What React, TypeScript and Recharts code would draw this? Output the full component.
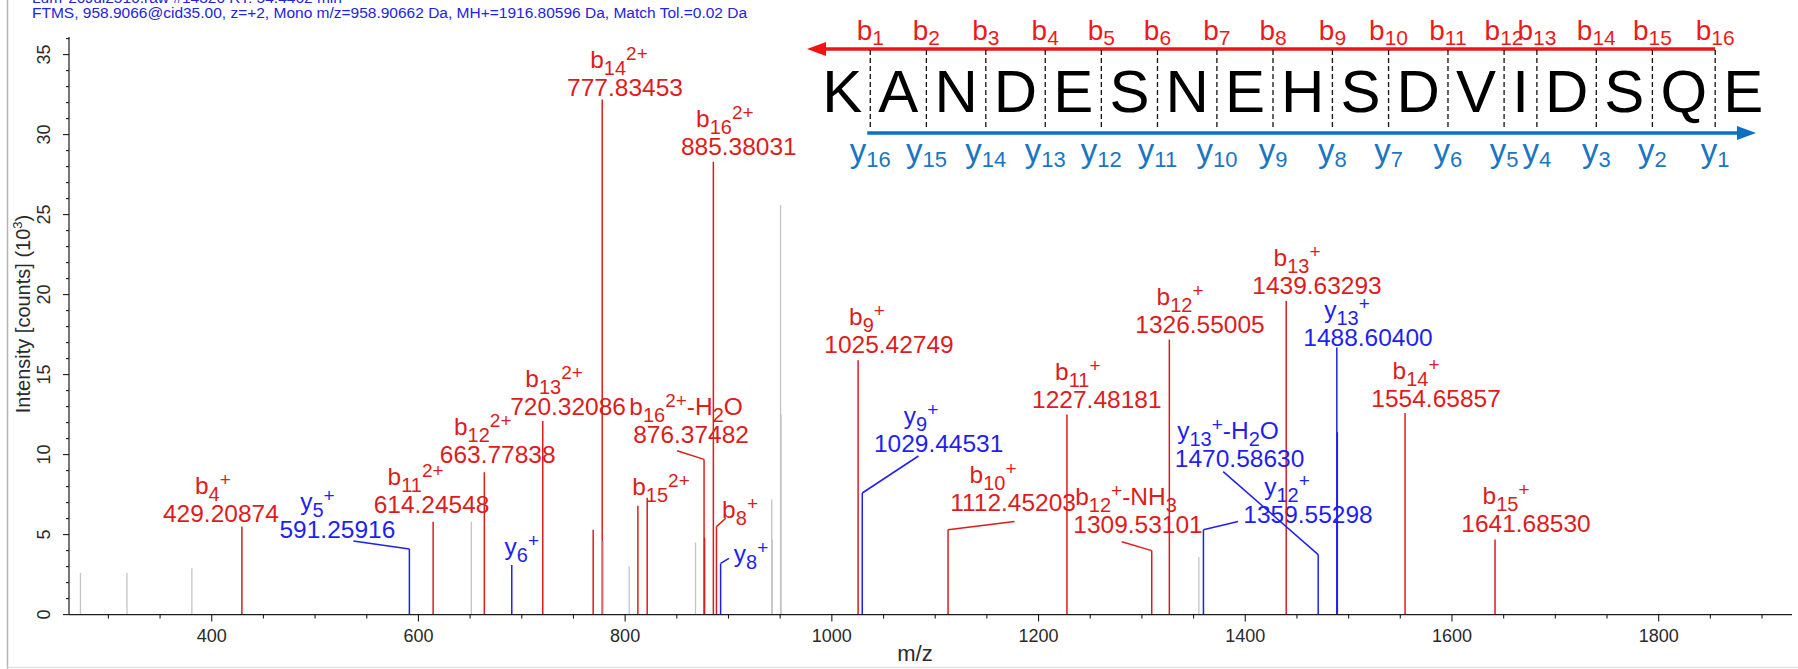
import React from "react";
import { ComposedChart, Bar, XAxis, YAxis } from "recharts";

const FONT = "'Liberation Sans', Arial, Helvetica, sans-serif";
const RED = "#dd1c1c";
const BLUE = "#1f1ff2";
const GREY = "#c4c4c4";
const AXIS = "#1c1c1c";

// annotated fragment ions, ordered by m/z (intensity in 10^3 counts)
// name format: series|number|charge|neutral loss
const ionMz = [
  429.20874, 591.25916, 614.24548, 663.77838, 690.33, 720.32086, 777.83453, 821.35,
  876.37482, 885.38031, 888.37, 892.39, 1025.42749, 1029.44531, 1112.45203, 1227.48181,
  1309.53101, 1326.55005, 1359.55298, 1439.63293, 1470.5863, 1488.604, 1554.65857, 1641.6853,
];
const ionIntensity = [
  5.5, 4.1, 5.8, 8.9, 3.1, 12.1, 32.2, 7.3,
  9.7, 28.3, 5.5, 3.2, 15.9, 7.6, 5.3, 12.5,
  4.0, 17.2, 5.3, 19.6, 3.75, 16.7, 12.6, 4.7,
];
const ionName = [
  "b|4|+", "y|5|+", "b|11|2+", "b|12|2+", "y|6|+", "b|13|2+", "b|14|2+", "b|15|2+",
  "b|16|2+|H2O", "b|16|2+", "b|8|+", "y|8|+", "b|9|+", "y|9|+", "b|10|+", "b|11|+",
  "b|12|+|NH3", "b|12|+", "y|12|+", "b|13|+", "y|13|+|H2O", "y|13|+", "b|14|+", "b|15|+",
];
const ionMzShown = [
  true, true, true, true, false, true, true, false,
  true, true, false, false, true, true, true, true,
  true, true, true, true, true, true, true, true,
];

// matched peaks drawn in ion colour but without a label
const extraMz = [769.1, 812.35, 876.87, 1489.1];
const extraIntensity = [5.3, 6.8, 4.8, 11.4];
const extraSeries = ["b", "b", "b", "y"];

// unassigned peaks
const otherMz = [273.0, 318.0, 380.8, 651.2, 778.8, 803.9, 868.1, 941.9, 942.3, 950.4, 950.9, 1355.1];
const otherIntensity = [2.6, 2.6, 2.9, 5.8, 4.6, 3.0, 4.5, 7.2, 4.7, 25.6, 12.5, 3.6];

const xTicks = [
  300, 350, 400, 450, 500, 550, 600, 650, 700, 750, 800, 850, 900, 950, 1000, 1050, 1100,
  1150, 1200, 1250, 1300, 1350, 1400, 1450, 1500, 1550, 1600, 1650, 1700, 1750, 1800, 1850, 1900,
];
const yTicks = [
  0, 1, 2, 3, 4, 5, 6, 7, 8, 9, 10, 11, 12, 13, 14, 15, 16, 17, 18,
  19, 20, 21, 22, 23, 24, 25, 26, 27, 28, 29, 30, 31, 32, 33, 34, 35, 36,
];

const peptide = "KANDESNEHSDVIDSQE".split("");

// label offsets (px) from the peak top: number line centre, name shift, leader start
type Placement = { dx: number; dy: number; ndx?: number; lead?: [number, number] };
const labelPlacement: Record<string, Placement> = {
  "b|4|+": { dx: -21, dy: -5, ndx: -8 },
  "y|5|+": { dx: -72, dy: -10.7, ndx: -20, lead: [-56, -8] },
  "b|11|2+": { dx: -1.6, dy: -8.5, ndx: -16 },
  "b|12|2+": { dx: 13.4, dy: -9, ndx: -15 },
  "y|6|+": { dx: 10, dy: -10 },
  "b|13|2+": { dx: 25.3, dy: -6, ndx: -14 },
  "b|14|2+": { dx: 22.8, dy: -3.4, ndx: -6 },
  "b|15|2+": { dx: 13.8, dy: -3 },
  "b|16|2+|H2O": { dx: -13, dy: -16, ndx: -5, lead: [-27, -8.7] },
  "b|16|2+": { dx: 25.5, dy: -6.8, ndx: -14 },
  "b|8|+": { dx: 23.6, dy: -8.6, lead: [9.3, -8.3] },
  "y|8|+": { dx: 30.4, dy: -1.7, lead: [8.4, -5.1] },
  "b|9|+": { dx: 30.9, dy: -6.9, ndx: -22 },
  "y|9|+": { dx: 76.4, dy: -41.3, ndx: -17.6, lead: [56.2, -37] },
  "b|10|+": { dx: 65, dy: -19, ndx: -20, lead: [66.5, -8.3] },
  "b|11|+": { dx: 29.9, dy: -6.3, ndx: -19 },
  "b|12|+|NH3": { dx: -13.7, dy: -17.3, ndx: -12, lead: [-30, -8.9] },
  "b|12|+": { dx: 30.7, dy: -6.1, ndx: -20 },
  "y|12|+": { dx: 104.6, dy: -6.7, ndx: -21, lead: [34.6, -8.3] },
  "b|13|+": { dx: 30.8, dy: -7, ndx: -20 },
  "y|13|+|H2O": { dx: -78.6, dy: -87.9, ndx: -11.6, lead: [-95, -83] },
  "y|13|+": { dx: 31.2, dy: -1.4, ndx: -21 },
  "b|14|+": { dx: 31, dy: -6.3, ndx: -20 },
  "b|15|+": { dx: 31, dy: -7.7, ndx: -20 },
};

type Row = { mz: number; intensity: number; kind: string; label?: string; showMz?: boolean };

const rows: Row[] = [
  ...ionMz.map((mz, i) => ({
    mz,
    intensity: ionIntensity[i],
    kind: ionName[i].split("|")[0],
    label: ionName[i],
    showMz: ionMzShown[i],
  })),
  ...extraMz.map((mz, i) => ({ mz, intensity: extraIntensity[i], kind: extraSeries[i] })),
  ...otherMz.map((mz, i) => ({ mz, intensity: otherIntensity[i], kind: "" })),
].sort((a, b) => a.mz - b.mz);

function IonName({ x, y, name, color }: { x: number; y: number; name: string; color: string }) {
  const [series, num, charge, loss] = name.split("|");
  return (
    <text x={x} y={y} textAnchor="middle" fontFamily={FONT} fontSize={24.5} fill={color}>
      <tspan>{series}</tspan>
      <tspan fontSize={20} dy={7}>{num}</tspan>
      <tspan fontSize={19} dy={-15}>{charge}</tspan>
      {loss && <tspan dy={8}>-{loss === "H2O" ? "H" : "NH"}</tspan>}
      {loss && <tspan fontSize={20} dy={7}>{loss === "H2O" ? "2" : "3"}</tspan>}
      {loss === "H2O" && <tspan dy={-7}>O</tspan>}
    </text>
  );
}

function Peak(props: any) {
  const { x, y, width, height, index } = props;
  const row: Row = props.payload ?? rows[index];
  if (!row || x == null || y == null) return null;
  const cx = x + (width || 0) / 2;
  const top = y;
  const base = y + height;
  const color = row.kind === "b" ? RED : row.kind === "y" ? BLUE : GREY;
  const place = row.label ? labelPlacement[row.label] : undefined;
  return (
    <g>
      <line x1={cx} x2={cx} y1={top} y2={base} stroke={color} strokeWidth={row.kind ? 1.5 : 1.3} />
      {place && place.lead && (
        <line x1={cx + place.lead[0]} y1={top + place.lead[1]} x2={cx} y2={top} stroke={color} strokeWidth={1.5} />
      )}
      {place && row.showMz && (
        <>
          <text x={cx + place.dx} y={top + place.dy} textAnchor="middle" fontFamily={FONT} fontSize={24.5} fill={color}>
            {row.mz.toFixed(5)}
          </text>
          <IonName x={cx + place.dx + (place.ndx || 0)} y={top + place.dy - 28} name={row.label!} color={color} />
        </>
      )}
      {place && !row.showMz && <IonName x={cx + place.dx} y={top + place.dy} name={row.label!} color={color} />}
    </g>
  );
}

function XTick(props: any) {
  const { x, y, payload } = props;
  const v = payload.value;
  const major = v % 200 === 0;
  return (
    <g>
      <line x1={x} x2={x} y1={y} y2={y + (major ? 7 : 4)} stroke={AXIS} strokeWidth={1.1} />
      {major && (
        <text x={x} y={y + 27} textAnchor="middle" fontFamily={FONT} fontSize={18} fill="#2a2a2a">
          {v}
        </text>
      )}
    </g>
  );
}

function YTick(props: any) {
  const { x, y, payload } = props;
  const v = payload.value;
  const major = v % 5 === 0;
  return (
    <g>
      <line x1={x} x2={x - (major ? 6 : 3)} y1={y} y2={y} stroke={AXIS} strokeWidth={1.1} />
      {major && v <= 35 && (
        <text x={x - 25} y={y} dy="0.36em" transform={`rotate(-90 ${x - 25} ${y})`} textAnchor="middle"
              fontFamily={FONT} fontSize={18} fill="#2a2a2a">
          {v}
        </text>
      )}
    </g>
  );
}

const glyphEm: Record<string, number> = {
  K: 0.667, A: 0.667, N: 0.722, D: 0.722, E: 0.667, S: 0.667, H: 0.722, V: 0.667, I: 0.278, Q: 0.778,
};

function PeptideMap() {
  const size = 60;
  const gap = 16.1;
  let pos = 822.2;
  const letters: { aa: string; cx: number }[] = [];
  const cuts: number[] = [];
  peptide.forEach((aa, i) => {
    const w = glyphEm[aa] * size;
    letters.push({ aa, cx: pos + w / 2 });
    pos += w;
    if (i < peptide.length - 1) {
      cuts.push(pos + gap / 2);
      pos += gap;
    }
  });
  const n = peptide.length - 1;
  return (
    <g fontFamily={FONT}>
      {/* b ions, N-terminal arrow */}
      <line x1={cuts[n - 1]} x2={822} y1={49} y2={49} stroke="#f01414" strokeWidth={3.5} />
      <polygon points={`807,49 826,42 826,56`} fill="#f01414" />
      {/* y ions, C-terminal arrow */}
      <line x1={cuts[0] - 3} x2={1740} y1={133} y2={133} stroke="#0b6fc2" strokeWidth={3.5} />
      <polygon points={`1756,133 1737,126 1737,140`} fill="#0b6fc2" />
      {cuts.map((c, i) => (
        <line key={"c" + i} x1={c} x2={c} y1={50} y2={128} stroke="#111" strokeWidth={1.3} strokeDasharray="5 3" />
      ))}
      {letters.map((l, i) => (
        <text key={"l" + i} x={l.cx} y={111.5} textAnchor="middle" fontSize={size} fill="#000">
          {l.aa}
        </text>
      ))}
      {cuts.map((c, i) => (
        <text key={"b" + i} x={c} y={40} textAnchor="middle" fontSize={28} fill="#ee1a1a">
          b<tspan fontSize={21} dy={5}>{i + 1}</tspan>
        </text>
      ))}
      {cuts.map((c, i) => (
        <text key={"y" + i} x={c} y={162} textAnchor="middle" fontSize={33} fill="#1b76c2">
          y<tspan fontSize={22} dy={5}>{n - i}</tspan>
        </text>
      ))}
    </g>
  );
}

export default function App() {
  return (
    <div style={{ position: "absolute", left: 0, top: 0, width: 1798, height: 669, background: "#fff" }}>
      <ComposedChart width={1798} height={669} data={rows} barSize={1}
                     margin={{ top: 37, right: 6, bottom: 0, left: 0 }}>
        <XAxis dataKey="mz" type="number" domain={[261.9, 1929]} ticks={xTicks} interval={0}
               allowDataOverflow height={54.4} tickSize={0} tickMargin={0} tickLine={false}
               axisLine={{ stroke: AXIS, strokeWidth: 1.4 }} tick={(p: any) => <XTick {...p} />} />
        <YAxis type="number" domain={[0, 36.1]} ticks={yTicks} interval={0} allowDataOverflow
               width={69} tickSize={0} tickMargin={0} tickLine={false}
               axisLine={{ stroke: AXIS, strokeWidth: 1.2 }} tick={(p: any) => <YTick {...p} />} />
        <Bar dataKey="intensity" isAnimationActive={false} shape={(p: any) => <Peak {...p} />} />
      </ComposedChart>

      <svg width={1798} height={669} style={{ position: "absolute", left: 0, top: 0, pointerEvents: "none" }}>
        <line x1={7.5} x2={7.5} y1={0} y2={669} stroke="#b4b4b4" strokeWidth={1.5} />
        <line x1={7.5} x2={1798} y1={667.5} y2={667.5} stroke="#e2e2e2" strokeWidth={1.5} />
        <text x={32} y={3} fontFamily={FONT} fontSize={15.5} fill="#2323e6">
          Lum*20Jul2516.raw #14320 RT: 54.4462 min
        </text>
        <text x={32} y={18} fontFamily={FONT} fontSize={15.5} fill="#2323e6">
          FTMS, 958.9066@cid35.00, z=+2, Mono m/z=958.90662 Da, MH+=1916.80596 Da, Match Tol.=0.02 Da
        </text>
        <text x={23} y={314} dy="0.36em" transform="rotate(-90 23 314)" textAnchor="middle"
              fontFamily={FONT} fontSize={20} fill="#2a2a2a">
          Intensity [counts] (10<tspan fontSize={13} dy={-8}>3</tspan><tspan dy={8}>)</tspan>
        </text>
        <text x={915} y={661} textAnchor="middle" fontFamily={FONT} fontSize={22} fill="#2a2a2a">
          m/z
        </text>
        <PeptideMap />
      </svg>
    </div>
  );
}
